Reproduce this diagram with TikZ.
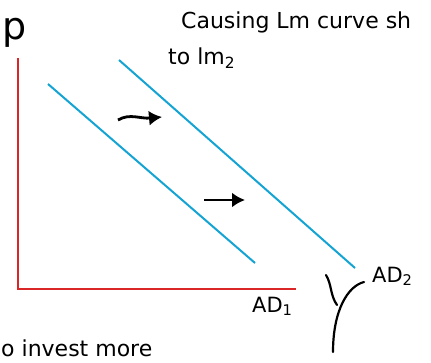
\documentclass[tikz,border=0pt]{standalone}
\usepackage{fontspec}
\setmainfont{DejaVu Sans}
\usetikzlibrary{arrows.meta}
\definecolor{axisred}{RGB}{218,38,38}
\definecolor{adblue}{RGB}{20,164,212}
\begin{document}
\begin{tikzpicture}[x=1pt,y=-1pt,
  axis/.style={draw=axisred,line width=1.8pt},
  adline/.style={draw=adblue,line width=2pt},
  shiftarrow/.style={draw=black,line width=2.8pt,-{Latex[length=13pt,width=15pt]}},
  ink/.style={draw=black,line width=2.2pt,line cap=round},
  hand/.style={inner sep=0pt,text=black}]
\useasboundingbox (0,0) rectangle (431,362);
% axes
\coordinate (top) at (18,58);
\coordinate (origin) at (18,289);
\coordinate (right) at (296,289);
\draw[axis] (top) -- (origin) -- (right);
% AD curves
\coordinate (a1s) at (48,84);
\coordinate (a1e) at (255,263);
\coordinate (a2s) at (119,60);
\coordinate (a2e) at (355,268);
\draw[adline] (a1s) -- (a1e);
\draw[adline] (a2s) -- (a2e);
% shift arrows
\coordinate (s1a) at (118,120);
\coordinate (s1b) at (162,117);
\coordinate (s2a) at (204,200);
\coordinate (s2b) at (245,200);
\draw[shiftarrow] (s1a) .. controls (130,113) and (140,119) .. (s1b);
\draw[shiftarrow] (s2a) -- (s2b);
% Y hand symbol
\coordinate (y1) at (326,275);
\coordinate (yj) at (337,305);
\coordinate (y2) at (364,282);
\coordinate (y3) at (333,352);
\draw[ink] (y1) .. controls (332,285) and (330,295) .. (yj);
\draw[ink] (y2) .. controls (348,286) and (333,310) .. (y3);
% labels
\node[hand,font=\fontsize{38}{38}\selectfont] (P) at (15,33) {p};
\node[hand,anchor=base west,font=\fontsize{22}{24}\selectfont] (cause) at (181,28) {Causing Lm curve sh};
\node[hand,anchor=base west,font=\fontsize{22}{24}\selectfont] (to) at (168,64) {to lm$_{\mathrm{2}}$};
\node[hand,anchor=base west,font=\fontsize{21}{24}\selectfont] (ad1) at (252,312) {AD$_{\mathrm{1}}$};
\node[hand,anchor=base west,font=\fontsize{21}{24}\selectfont] (ad2) at (372,282) {AD$_{\mathrm{2}}$};
\node[hand,anchor=base west,font=\fontsize{22}{24}\selectfont] (bottom) at (1,356) {o invest more};
\end{tikzpicture}
\end{document}
